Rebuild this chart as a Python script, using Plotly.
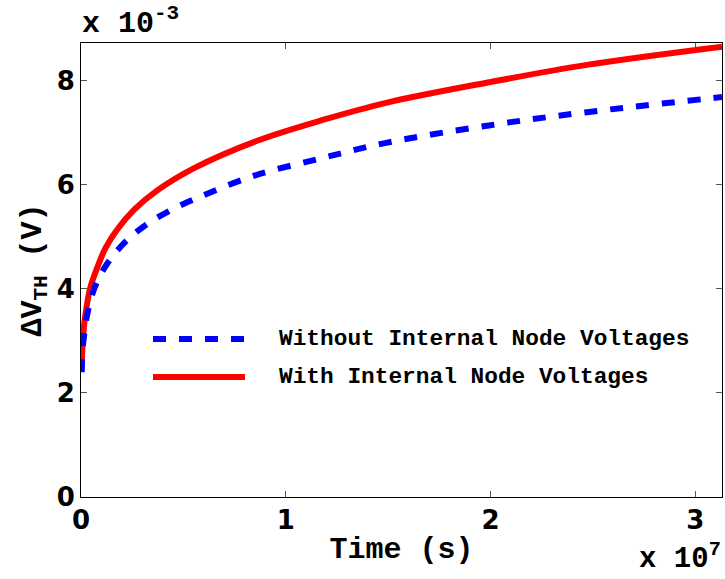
import plotly.graph_objects as go

# ---- data (time in s, threshold shift in V) ----
time_without = [3.5e4, 8e4, 1.5e5, 3.0e5, 6.6e5, 1.3e6, 2.2e6, 3.2e6, 4.4e6, 5.5e6,
                8.4e6, 1.18e7, 1.49e7, 2.0e7, 2.47e7, 3.13e7]
dvth_without = [2.40e-3, 2.85e-3, 3.10e-3, 3.50e-3, 4.02e-3, 4.50e-3, 4.92e-3, 5.24e-3,
                5.52e-3, 5.72e-3, 6.17e-3, 6.52e-3, 6.81e-3, 7.15e-3, 7.40e-3, 7.69e-3]

time_with = [4.5e4, 8e4, 1.5e5, 2.7e5, 4.5e5, 8.1e5, 1.2e6, 1.78e6, 2.61e6, 3.74e6,
             5.5e6, 8.6e6, 1.18e7, 1.49e7, 2.0e7, 2.47e7, 3.13e7]
dvth_with = [2.65e-3, 2.95e-3, 3.30e-3, 3.65e-3, 4.02e-3, 4.43e-3, 4.79e-3, 5.15e-3,
             5.53e-3, 5.90e-3, 6.32e-3, 6.85e-3, 7.25e-3, 7.58e-3, 7.98e-3, 8.31e-3, 8.66e-3]

x_tick_vals = [0, 1e7, 2e7, 3e7]
x_tick_text = ["0", "1", "2", "3"]
y_tick_vals = [0, 2e-3, 4e-3, 6e-3, 8e-3]
y_tick_text = ["0", "2", "4", "6", "8"]
legend_labels = ["Without Internal Node Voltages", "With Internal Node Voltages"]
x_range = [0, 3.13e7]
y_range = [0, 8.73e-3]

BLUE = "#0000ff"
RED = "#ff0000"
DASH = "13px,13px"
MONO = "Liberation Mono, Courier New, monospace"
SANS = "DejaVu Sans, sans-serif"

fig = go.Figure()
fig.add_trace(go.Scatter(x=time_with, y=dvth_with, mode="lines",
                         line=dict(color=RED, width=6, shape="spline"),
                         name=legend_labels[1], showlegend=False))
fig.add_trace(go.Scatter(x=time_without, y=dvth_without, mode="lines",
                         line=dict(color=BLUE, width=6, dash=DASH, shape="spline"),
                         name=legend_labels[0], showlegend=False))

W, H = 725, 579
L, R, T, B = 81, 3, 43, 82
pw, ph = W - L - R, H - T - B

def px(x):
    return (x - L) / pw

def py(y):
    return (H - B - y) / ph

# manual legend (MATLAB style, long line samples)
fig.add_shape(type="line", xref="paper", yref="paper", x0=px(153), x1=px(245),
              y0=py(339), y1=py(339), line=dict(color=BLUE, width=6, dash=DASH))
fig.add_shape(type="line", xref="paper", yref="paper", x0=px(153), x1=px(245),
              y0=py(377), y1=py(377), line=dict(color=RED, width=6))
for lab, yy in zip(legend_labels, [339, 377]):
    fig.add_annotation(text=lab, xref="paper", yref="paper", x=px(277), y=py(yy),
                       xanchor="left", yanchor="middle", showarrow=False,
                       font=dict(family=MONO, size=22.8, color="black", weight="bold"))

# exponent labels
fig.add_annotation(text="x 10<sup>-3</sup>", xref="paper", yref="paper",
                   x=px(80), y=py(43), xanchor="left", yanchor="bottom", showarrow=False,
                   font=dict(family=MONO, size=30, color="black", weight="bold"))
fig.add_annotation(text="x 10<sup>7</sup>", xref="paper", yref="paper",
                   x=px(723), y=py(578), xanchor="right", yanchor="bottom", showarrow=False,
                   font=dict(family=MONO, size=29, color="black", weight="bold"))

axis_common = dict(showgrid=False, zeroline=False, showline=True, linecolor="black",
                   linewidth=1, mirror="ticks", ticks="inside", ticklen=6,
                   tickcolor="#555555", tickwidth=1,
                   tickfont=dict(family=SANS, size=26, color="black", weight="bold"))

fig.update_xaxes(range=x_range, tickvals=x_tick_vals, ticktext=x_tick_text,
                 title=dict(text="Time (s)", standoff=2,
                            font=dict(family=MONO, size=30, color="black", weight="bold")),
                 **axis_common)
fig.update_yaxes(range=y_range, tickvals=y_tick_vals, ticktext=y_tick_text,
                 title=dict(text="ΔV<sub>TH</sub> (V)", standoff=6,
                            font=dict(family=MONO, size=30, color="black", weight="bold")),
                 **axis_common)

fig.update_layout(width=W, height=H, margin=dict(l=L, r=R, t=T, b=B, pad=0),
                  paper_bgcolor="white", plot_bgcolor="white", showlegend=False)

fig.write_html("out.html")
